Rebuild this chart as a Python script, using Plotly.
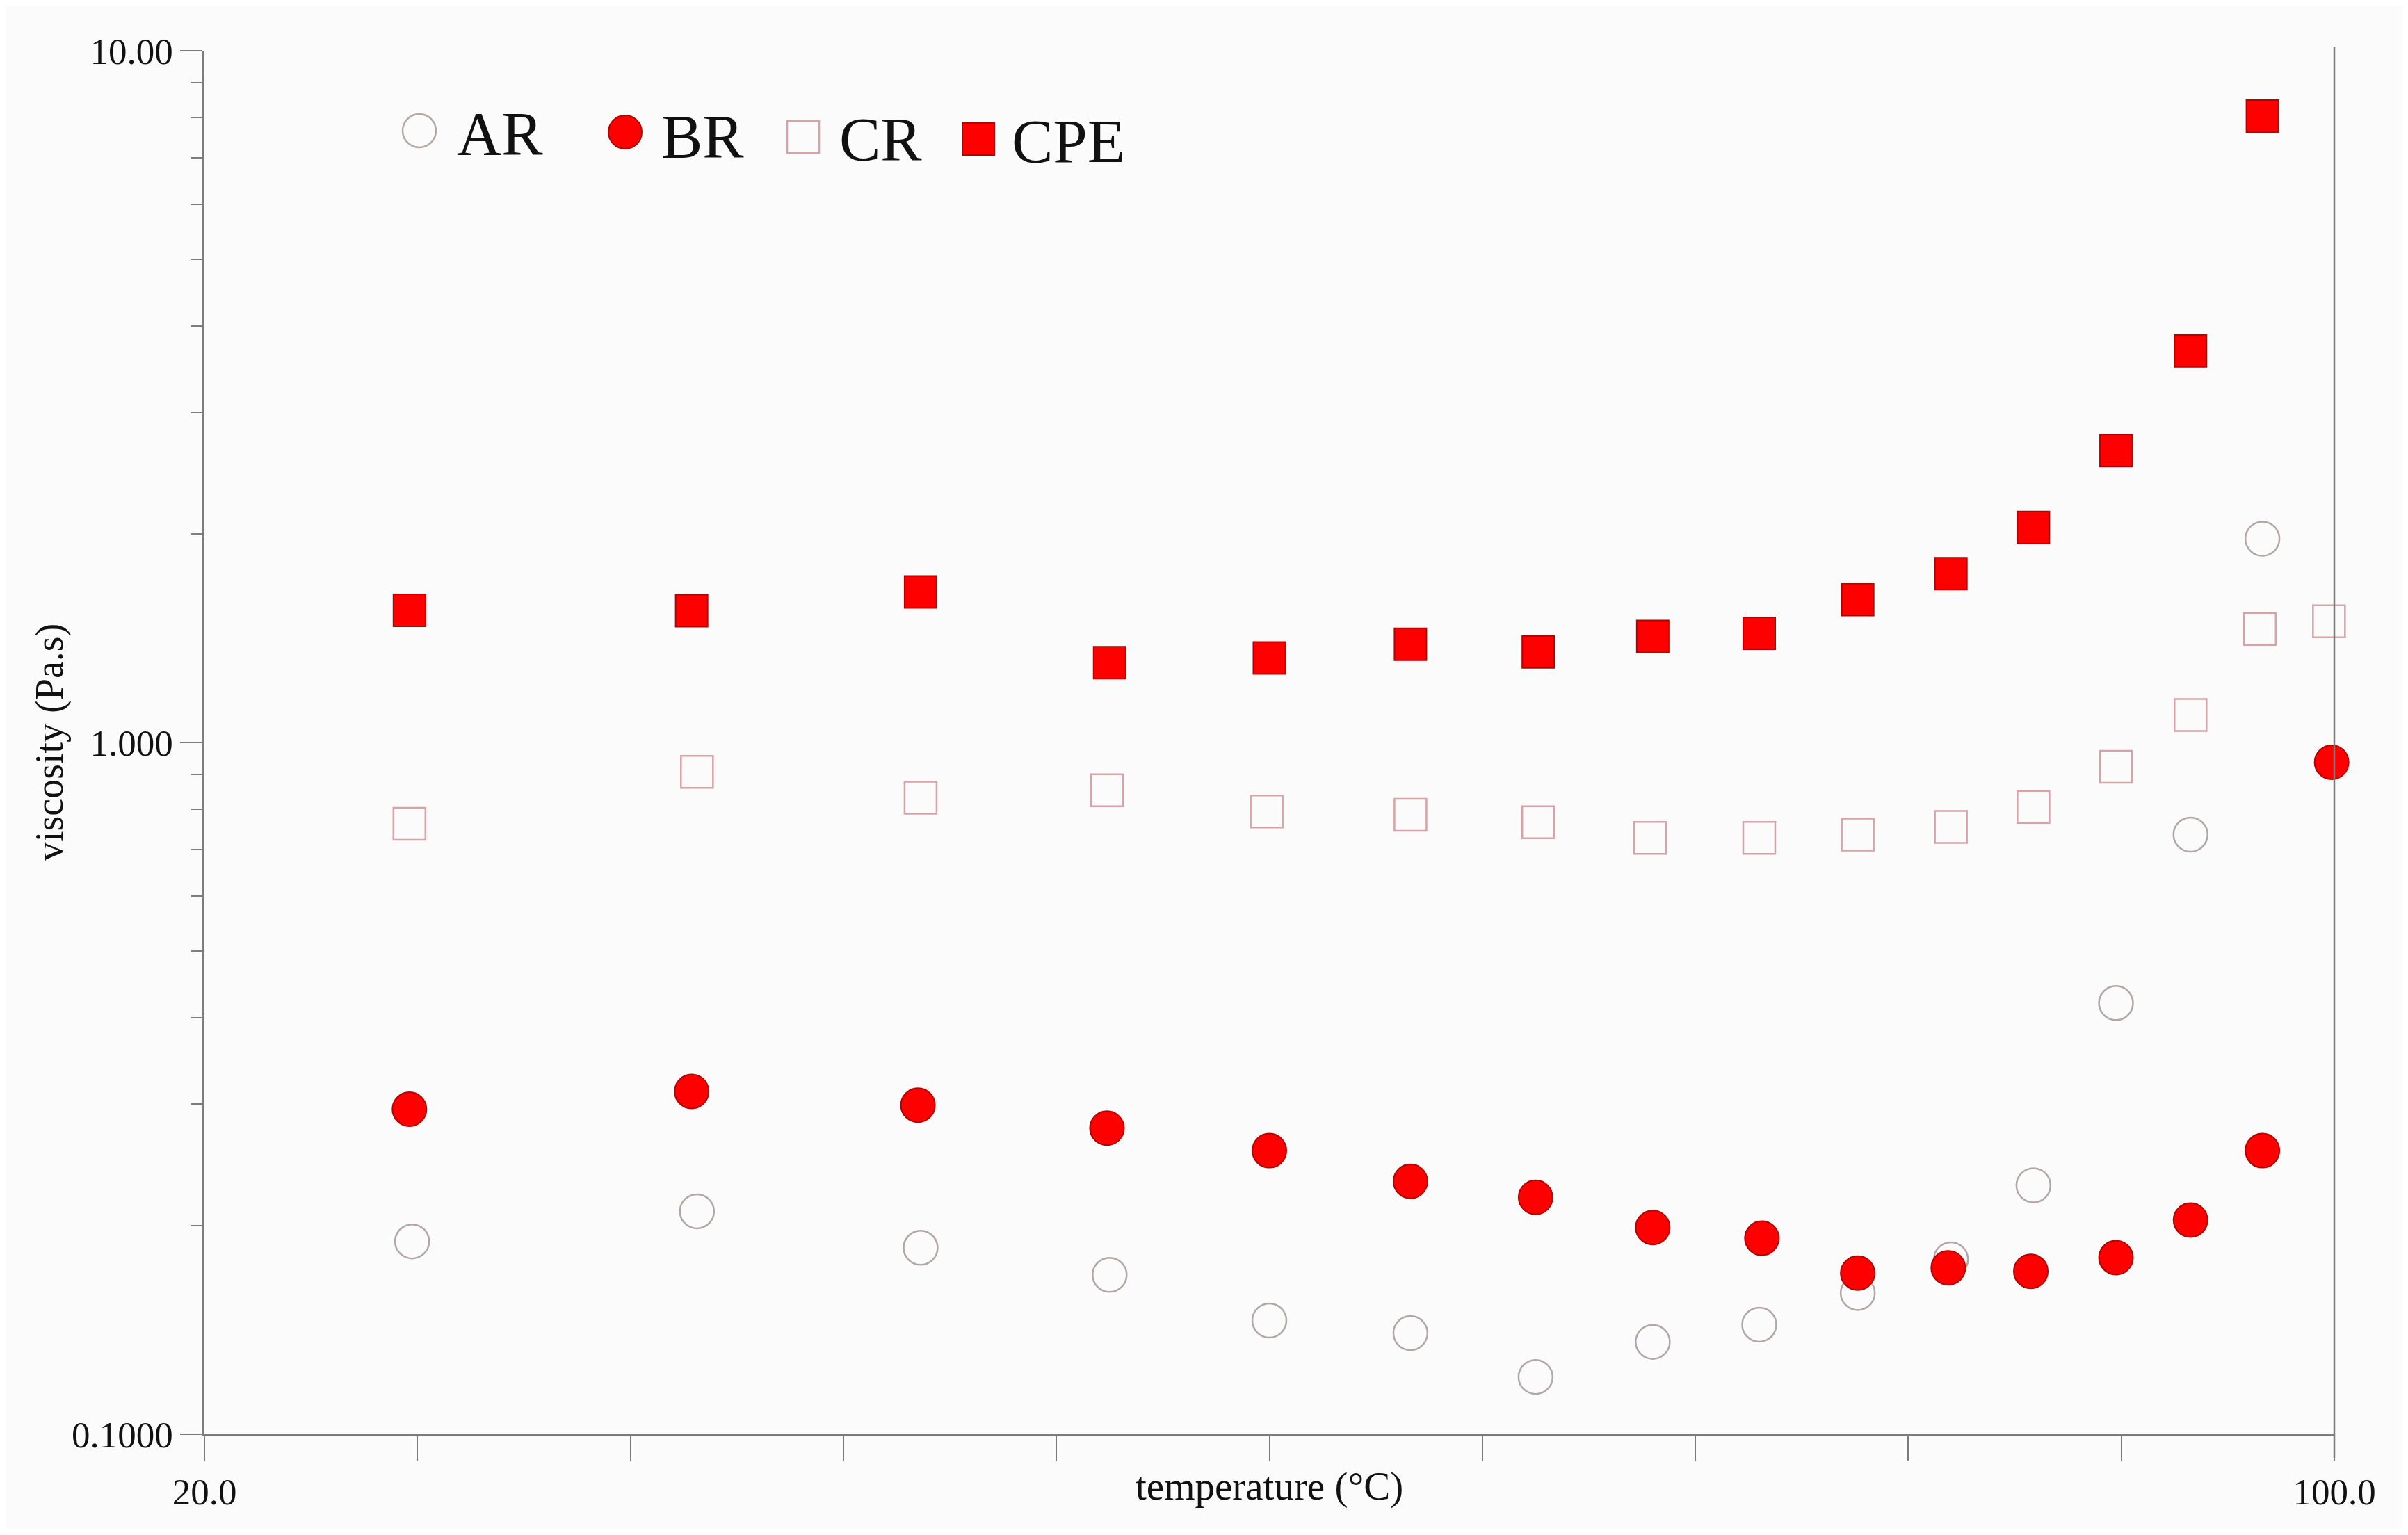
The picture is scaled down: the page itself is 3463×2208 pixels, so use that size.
from __future__ import annotations

import plotly.graph_objects as go

# --- data ----------------------------------------------------------------
ar_temp = [27.8, 38.5, 46.9, 54.0, 60.0, 65.3, 70.0, 74.4, 78.4, 82.1, 85.6, 88.7, 91.8, 94.6, 97.3]
ar_visc = [0.190, 0.210, 0.186, 0.170, 0.146, 0.140, 0.121, 0.136, 0.144, 0.160, 0.179, 0.229, 0.420, 0.736, 1.97]

br_temp = [27.7, 38.3, 46.8, 53.9, 60.0, 65.3, 70.0, 74.4, 78.5, 82.1, 85.5, 88.6, 91.8, 94.6, 97.3, 99.9]
br_visc = [0.295, 0.313, 0.299, 0.277, 0.257, 0.232, 0.220, 0.199, 0.192, 0.171, 0.174, 0.172, 0.180, 0.204, 0.257, 0.936]

cr_temp = [27.7, 38.5, 46.9, 53.9, 59.9, 65.3, 70.1, 74.3, 78.4, 82.1, 85.6, 88.7, 91.8, 94.6, 97.2, 99.8]
cr_visc = [0.763, 0.907, 0.832, 0.853, 0.795, 0.786, 0.767, 0.728, 0.728, 0.736, 0.755, 0.807, 0.922, 1.096, 1.459, 1.497]

cpe_temp = [27.7, 38.3, 46.9, 54.0, 60.0, 65.3, 70.1, 74.4, 78.4, 82.1, 85.6, 88.7, 91.8, 94.6, 97.3]
cpe_visc = [1.552, 1.550, 1.650, 1.304, 1.325, 1.387, 1.352, 1.423, 1.438, 1.609, 1.754, 2.045, 2.641, 3.681, 8.047]

series_names = ["AR", "BR", "CR", "CPE"]
x_tickvals = [20, 28, 36, 44, 52, 60, 68, 76, 84, 92, 100]
x_ticktext = ["20.0", "", "", "", "", "", "", "", "", "", "100.0"]
y_tickvals = [0.1, 1, 10]
y_ticktext = ["0.1000", "1.000", "10.00"]

# --- layout constants (pixels of the 3463x2208 page) ---------------------
W, H = 3463, 2208
BODY = 8  # default <body> margin of the html page
L, R, T, B = 294, 3357, 73, 2063  # plot area on the page
FONT = "Liberation Serif"
AXIS_GREY = "#7c7c7c"
RED = "#ff0000"
RED_EDGE = "#b40000"
CR_EDGE = "#d7a2a8"
AR_EDGE = "#b3a6a6"


def px_to_paper(px: float, py: float) -> tuple[float, float]:
    return (px - L) / (R - L), (B - py) / (B - T)


STYLES = {
    "AR": dict(symbol="circle-open", size=49, color=AR_EDGE, line=dict(color=AR_EDGE, width=2.5)),
    "BR": dict(symbol="circle", size=49, color=RED, line=dict(color=RED_EDGE, width=2)),
    "CR": dict(symbol="square-open", size=46, color=CR_EDGE, line=dict(color=CR_EDGE, width=2.5)),
    "CPE": dict(symbol="square", size=46, color=RED, line=dict(color=RED_EDGE, width=2)),
}

fig = go.Figure()
for name, xs, ys in [("AR", ar_temp, ar_visc), ("BR", br_temp, br_visc),
                     ("CR", cr_temp, cr_visc), ("CPE", cpe_temp, cpe_visc)]:
    fig.add_trace(go.Scatter(x=xs, y=ys, mode="markers", name=name,
                             marker=STYLES[name], showlegend=False, cliponaxis=False))

# legend drawn by hand: plotly caps legend symbols at 16px, the reference uses big ones
legend_pos = {"AR": (603, 188, 655, 192), "BR": (899, 190, 949, 196),
              "CR": (1155, 197, 1205, 200), "CPE": (1407, 200, 1453, 203)}
shapes = []
annotations = []
for name in series_names:
    mx, my, tx, ty = legend_pos[name]
    ax_, ay_ = px_to_paper(mx, my)
    st = STYLES[name]
    filled = not st["symbol"].endswith("open")
    half = 24 if "circle" in st["symbol"] else 23
    shapes.append(dict(
        type="circle" if "circle" in st["symbol"] else "rect",
        xref="paper", yref="paper", xsizemode="pixel", ysizemode="pixel",
        xanchor=ax_, yanchor=ay_, x0=-half, x1=half, y0=-half, y1=half,
        fillcolor=RED if filled else "rgba(0,0,0,0)",
        line=dict(color=st["line"]["color"], width=st["line"]["width"]),
    ))
    lx, ly = px_to_paper(tx, ty)
    annotations.append(dict(x=lx, y=ly, xref="paper", yref="paper", text=name,
                            showarrow=False, xanchor="left", yanchor="middle",
                            font=dict(family=FONT, size=89, color="#111111")))

# right-hand frame line at 100 °C (runs a bit below the x axis like the ticks)
shapes.append(dict(type="line", xref="paper", yref="paper", x0=1, x1=1,
                   y0=-(2097 - B) / (B - T), y1=1.003,
                   line=dict(color=AXIS_GREY, width=2.5)))

annotations.append(dict(x=0.5, y=0, xref="paper", yref="paper", text="temperature (°C)",
                        showarrow=False, xanchor="center", yanchor="middle", yshift=-(2138 - B),
                        font=dict(family=FONT, size=57, color="#111111")))
annotations.append(dict(x=0, y=0.5, xref="paper", yref="paper", text="viscosity (Pa.s)",
                        showarrow=False, xanchor="center", yanchor="middle", textangle=-90,
                        xshift=-(L - 71), font=dict(family=FONT, size=56, color="#111111")))

fig_w, fig_h = W - 2 * BODY, H - 2 * BODY
fig.update_layout(
    width=fig_w, height=fig_h,
    margin=dict(l=L - BODY, r=fig_w - (R - BODY), t=T - BODY, b=fig_h - (B - BODY)),
    paper_bgcolor="#fbfbfb", plot_bgcolor="#fbfbfb",
    font=dict(family=FONT, size=52, color="#111111"),
    shapes=shapes, annotations=annotations,
)
fig.update_xaxes(
    range=[20, 100], showgrid=False, zeroline=False,
    showline=True, linecolor=AXIS_GREY, linewidth=2.5,
    tickmode="array", tickvals=x_tickvals, ticktext=x_ticktext,
    ticks="outside", ticklen=35, tickwidth=2, tickcolor=AXIS_GREY,
    tickfont=dict(family=FONT, size=53, color="#111111"),
)
fig.update_yaxes(
    type="log", range=[-1, 1], showgrid=False, zeroline=False,
    showline=True, linecolor=AXIS_GREY, linewidth=2.5,
    tickmode="array", tickvals=y_tickvals, ticktext=y_ticktext,
    ticks="outside", ticklen=32, tickwidth=2, tickcolor=AXIS_GREY,
    tickfont=dict(family=FONT, size=53, color="#111111"),
    minor=dict(ticks="outside", ticklen=16, tickwidth=2, tickcolor=AXIS_GREY, dtick="D1"),
)

fig.write_html("out.html")
